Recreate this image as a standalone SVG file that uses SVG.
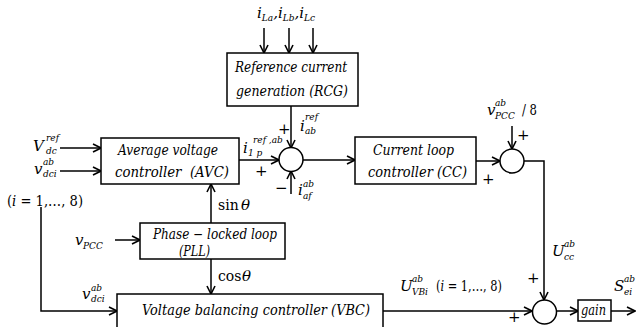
<svg xmlns="http://www.w3.org/2000/svg" width="637" height="327" viewBox="0 0 637 327">
<defs>
<marker id="arr" markerWidth="10" markerHeight="10" refX="9" refY="5" orient="auto" markerUnits="userSpaceOnUse">
<path d="M1,1 L9,5 L1,9" fill="none" stroke="#000" stroke-width="1.6"/>
</marker>
<style>
.box{fill:#fff;stroke:#000;stroke-width:1.5}
.sum{fill:#fff;stroke:#000;stroke-width:1.5}
.ar{fill:none;stroke:#000;stroke-width:1.5;marker-end:url(#arr)}
.t{font-size:14px;font-style:italic}
.m{font-size:15px;font-style:italic}
.s{font-size:9px;font-style:italic}
.u{font-size:14px;font-style:normal}
.p{font-size:15px}
</style>
</defs>
<rect width="637" height="327" fill="#fff"/>

<g id="connectors">
<line class="ar" x1="264" y1="28" x2="264" y2="53"/>
<line class="ar" x1="289" y1="28" x2="289" y2="53"/>
<line class="ar" x1="313" y1="28" x2="313" y2="53"/>
<line class="ar" x1="291" y1="106" x2="291" y2="148"/>
<line class="ar" x1="239" y1="160" x2="279" y2="160"/>
<line class="ar" x1="291" y1="194" x2="291" y2="171"/>
<line class="ar" x1="303" y1="160" x2="355" y2="160"/>
<line class="ar" x1="60" y1="148" x2="101" y2="148"/>
<line class="ar" x1="60" y1="171" x2="101" y2="171"/>
<polyline class="ar" points="41,207 41,311 117,311"/>
<line class="ar" x1="115" y1="240" x2="140" y2="240"/>
<line class="ar" x1="211" y1="223" x2="211" y2="184"/>
<line class="ar" x1="211" y1="259" x2="211" y2="294"/>
<line class="ar" x1="476" y1="161" x2="500" y2="161"/>
<line class="ar" x1="512" y1="126" x2="512" y2="149"/>
<polyline class="ar" points="524,161 544,161 544,300"/>
<line class="ar" x1="383" y1="311" x2="532" y2="311"/>
<line class="ar" x1="557" y1="311" x2="578" y2="311"/>
<line class="ar" x1="611" y1="311" x2="635" y2="311"/>
</g>

<g font-family="'DejaVu Serif', 'Liberation Serif', serif" fill="#000">
<g id="rcg">
<rect class="box" x="227" y="53" width="131" height="53"/>
<text class="t" x="235" y="72" textLength="112" lengthAdjust="spacingAndGlyphs">Reference current</text>
<text class="t" x="236" y="96" textLength="112" lengthAdjust="spacingAndGlyphs">generation (RCG)</text>
</g>

<g id="avc">
<rect class="box" x="101" y="138" width="138" height="46"/>
<text class="t" x="118" y="155" textLength="100" lengthAdjust="spacingAndGlyphs">Average voltage</text>
<text class="t" x="115" y="177" xml:space="preserve" textLength="114" lengthAdjust="spacingAndGlyphs">controller  (AVC)</text>
</g>

<g id="cc">
<rect class="box" x="355" y="137" width="121" height="47"/>
<text class="t" x="373" y="155" textLength="81" lengthAdjust="spacingAndGlyphs">Current loop</text>
<text class="t" x="368" y="177" textLength="99" lengthAdjust="spacingAndGlyphs">controller (CC)</text>
</g>

<g id="pll">
<rect class="box" x="140" y="223" width="145" height="36"/>
<text class="t" x="153" y="239" textLength="124" lengthAdjust="spacingAndGlyphs">Phase − locked loop</text>
<text class="t" x="179" y="256" textLength="31" lengthAdjust="spacingAndGlyphs">(PLL)</text>
</g>

<g id="vbc">
<rect class="box" x="117" y="294" width="266" height="40"/>
<text class="t" x="142" y="315" textLength="228" lengthAdjust="spacingAndGlyphs">Voltage balancing controller (VBC)</text>
</g>

<g id="gain">
<rect class="box" x="578" y="300" width="33" height="21"/>
<text class="t" x="581" y="315" font-size="13" textLength="25" lengthAdjust="spacingAndGlyphs">gain</text>
</g>

<g id="sum1">
<circle class="sum" cx="291" cy="159.5" r="12"/>
<text class="p" x="278" y="134">+</text>
<text class="p" x="255" y="176">+</text>
<text class="p" x="275" y="193">−</text>
</g>

<g id="sum2">
<circle class="sum" cx="512" cy="161" r="12"/>
<text class="p" x="517" y="140">+</text>
<text class="p" x="482" y="184">+</text>
</g>

<g id="sum3">
<circle class="sum" cx="544.5" cy="312" r="12"/>
<text class="p" x="527" y="283">+</text>
<text class="p" x="508" y="322">+</text>
</g>

<g id="labels">
<text class="m" x="257" y="18">i<tspan class="s" dy="3">La</tspan><tspan dy="-3">,</tspan>i<tspan class="s" dy="3">Lb</tspan><tspan dy="-3">,</tspan>i<tspan class="s" dy="3">Lc</tspan></text>

<text class="m" x="300" y="131">i</text>
<text class="s" x="305" y="120">ref</text>
<text class="s" x="305" y="134">ab</text>

<text class="m" x="243" y="153">i</text>
<text class="s" x="248" y="156" font-size="11">1 p</text>
<text class="s" x="253" y="143">ref ,ab</text>

<text class="m" x="298" y="195">i</text>
<text class="s" x="303" y="187">ab</text>
<text class="s" x="303" y="199">af</text>

<text class="m" x="487" y="115">v</text>
<text class="s" x="495" y="106">ab</text>
<text class="s" x="495" y="119">PCC</text>
<text class="u" x="522" y="115" textLength="15" lengthAdjust="spacingAndGlyphs">/ 8</text>

<text class="m" x="552" y="256">U</text>
<text class="s" x="564" y="247">ab</text>
<text class="s" x="564" y="260">cc</text>

<text class="m" x="614" y="291">S</text>
<text class="s" x="624" y="282">ab</text>
<text class="s" x="624" y="295">ei</text>

<text class="m" x="400" y="291">U</text>
<text class="s" x="412" y="282">ab</text>
<text class="s" x="412" y="295">VBi</text>
<text class="u" x="436" y="291" textLength="66" lengthAdjust="spacingAndGlyphs">(<tspan font-style="italic">i</tspan> = 1,…, 8)</text>

<text class="m" x="33" y="151">V</text>
<text class="s" x="46" y="141">ref</text>
<text class="s" x="46" y="154">dc</text>

<text class="m" x="34" y="174">v</text>
<text class="s" x="43" y="165">ab</text>
<text class="s" x="43" y="177">dci</text>

<text class="u" x="7" y="206" textLength="76" lengthAdjust="spacingAndGlyphs">(<tspan font-style="italic">i</tspan> = 1,…, 8)</text>

<text class="m" x="75" y="245">v</text>
<text class="s" x="83" y="249" font-size="10">PCC</text>

<text class="m" x="82" y="299">v</text>
<text class="s" x="91" y="291">ab</text>
<text class="s" x="91" y="302">dci</text>

<text class="u" x="218" y="210">sin</text>
<text class="m" x="241" y="210">θ</text>
<text class="u" x="218" y="281">cos</text>
<text class="m" x="242" y="281">θ</text>
</g>
</g>
</svg>
